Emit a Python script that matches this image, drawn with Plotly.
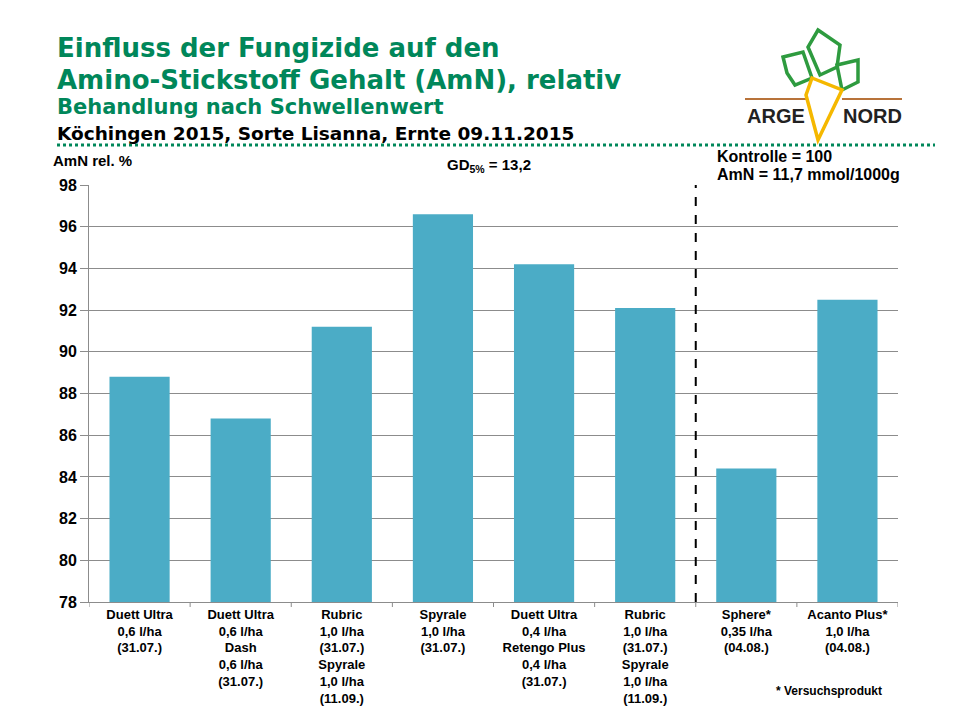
import plotly.graph_objects as go

# categories (treatments) and relative AmN values (Kontrolle = 100)
treatments = [
    "Duett Ultra<br>0,6 l/ha<br>(31.07.)",
    "Duett Ultra<br>0,6 l/ha<br>Dash<br>0,6 l/ha<br>(31.07.)",
    "Rubric<br>1,0 l/ha<br>(31.07.)<br>Spyrale<br>1,0 l/ha<br>(11.09.)",
    "Spyrale<br>1,0 l/ha<br>(31.07.)",
    "Duett Ultra<br>0,4 l/ha<br>Retengo Plus<br>0,4 l/ha<br>(31.07.)",
    "Rubric<br>1,0 l/ha<br>(31.07.)<br>Spyrale<br>1,0 l/ha<br>(11.09.)",
    "Sphere*<br>0,35 l/ha<br>(04.08.)",
    "Acanto Plus*<br>1,0 l/ha<br>(04.08.)",
]
amn_rel = [88.8, 86.8, 91.2, 96.6, 94.2, 92.1, 84.4, 92.5]
y_ticks = [78, 80, 82, 84, 86, 88, 90, 92, 94, 96, 98]

GREEN = "#00875A"
BAR = "#4BACC6"
GRID = "#8C8C8C"
FONT = "Liberation Sans, Arial, sans-serif"
WIDE = "DejaVu Sans, Verdana, sans-serif"

# page is drawn with an 8px offset, plot area wanted at page px 89..898 x 185..602
OFF = 8
L, R, T, B = 89 - OFF, 898 - OFF, 185 - OFF, 602 - OFF

xs = list(range(len(treatments)))

fig = go.Figure()
fig.add_trace(go.Bar(x=xs, y=amn_rel, marker_color=BAR, width=0.595,
                     marker_line_width=0, showlegend=False))

fig.update_layout(
    width=960, height=720,
    margin=dict(l=L, r=960 - R, t=T, b=720 - B),
    paper_bgcolor="white", plot_bgcolor="white",
    font=dict(family=FONT, color="black"),
    xaxis=dict(
        tickmode="array", tickvals=xs, ticktext=treatments,
        range=[-0.5, 7.5], showgrid=False,
        showline=True, linecolor=GRID, linewidth=1,
        ticks="", tickfont=dict(size=13, weight="bold", family=FONT),
    ),
    yaxis=dict(
        range=[78, 98], tickvals=y_ticks,
        showgrid=True, gridcolor=GRID, gridwidth=1,
        showline=True, linecolor=GRID, linewidth=1,
        ticks="outside", ticklen=8, tickcolor=GRID,
        tickfont=dict(size=16, weight="bold", family=FONT),
        zeroline=False,
    ),
)


def px_x(x):
    return (x - OFF - L) / (R - L)


def px_y(y):
    return (B - (y - OFF)) / (B - T)


# x tick marks at category boundaries
for i in range(len(treatments) + 1):
    fig.add_shape(type="line", xref="x", yref="paper",
                  x0=i - 0.5, x1=i - 0.5, y0=0, y1=px_y(607),
                  line=dict(color=GRID, width=1))

# dashed separator between standard and trial products
fig.add_shape(type="line", xref="x", yref="y", x0=5.5, x1=5.5, y0=78, y1=98,
              line=dict(color="black", width=2, dash="dash"))

# dotted green rule under header
fig.add_shape(type="line", xref="paper", yref="paper",
              x0=px_x(57), x1=px_x(935), y0=px_y(145), y1=px_y(145),
              line=dict(color=GREEN, width=3, dash="dot"))


def note(text, x, y, size, color="black", family=FONT, xanchor="left", yanchor="middle"):
    fig.add_annotation(text=text, x=px_x(x), y=px_y(y), xref="paper", yref="paper",
                       showarrow=False, xanchor=xanchor, yanchor=yanchor, align="left",
                       font=dict(size=size, color=color, family=family, weight="bold"))


note("Einfluss der Fungizide auf den", 55, 48, 26, GREEN, WIDE)
note("Amino-Stickstoff Gehalt (AmN), relativ", 55, 80, 26, GREEN, WIDE)
note("Behandlung nach Schwellenwert", 55, 107, 21, GREEN, WIDE)
note("Köchingen 2015, Sorte Lisanna, Ernte 09.11.2015", 55, 133, 18.5, "black", WIDE)
note("AmN rel. %", 51, 161, 15)
note("GD<sub>5%</sub> = 13,2", 445, 165, 15)
note("Kontrolle = 100", 715, 156, 16)
note("AmN = 11,7 mmol/1000g", 715, 175, 16)
note("* Versuchsprodukt", 774, 691, 12)


# ARGE NORD logo
def path(points):
    return "M " + " L ".join(f"{px_x(x)},{px_y(y)}" for x, y in points) + " Z"


LEAF = "#2E9B3F"
leaves = [
    [(818, 30), (840, 45), (837, 67), (820, 75), (808, 47)],
    [(783, 57), (803, 52), (812, 78), (795, 85), (787, 73)],
    [(837, 65), (858, 60), (858, 82), (842, 90)],
]
for lf in leaves:
    fig.add_shape(type="path", xref="paper", yref="paper", path=path(lf),
                  line=dict(color=LEAF, width=3.5))

for x0, x1 in [(745, 808), (842, 902)]:
    fig.add_shape(type="line", xref="paper", yref="paper",
                  x0=px_x(x0), x1=px_x(x1), y0=px_y(99), y1=px_y(99),
                  line=dict(color="#B8733A", width=2))

fig.add_shape(type="path", xref="paper", yref="paper",
              path=path([(812, 78), (842, 90), (818, 140), (806, 95)]),
              line=dict(color="#F5B800", width=3.5))

note("ARGE", 745, 116, 20, "#222222")
note("NORD", 841, 116, 20, "#222222")

fig.write_html("out.html")
